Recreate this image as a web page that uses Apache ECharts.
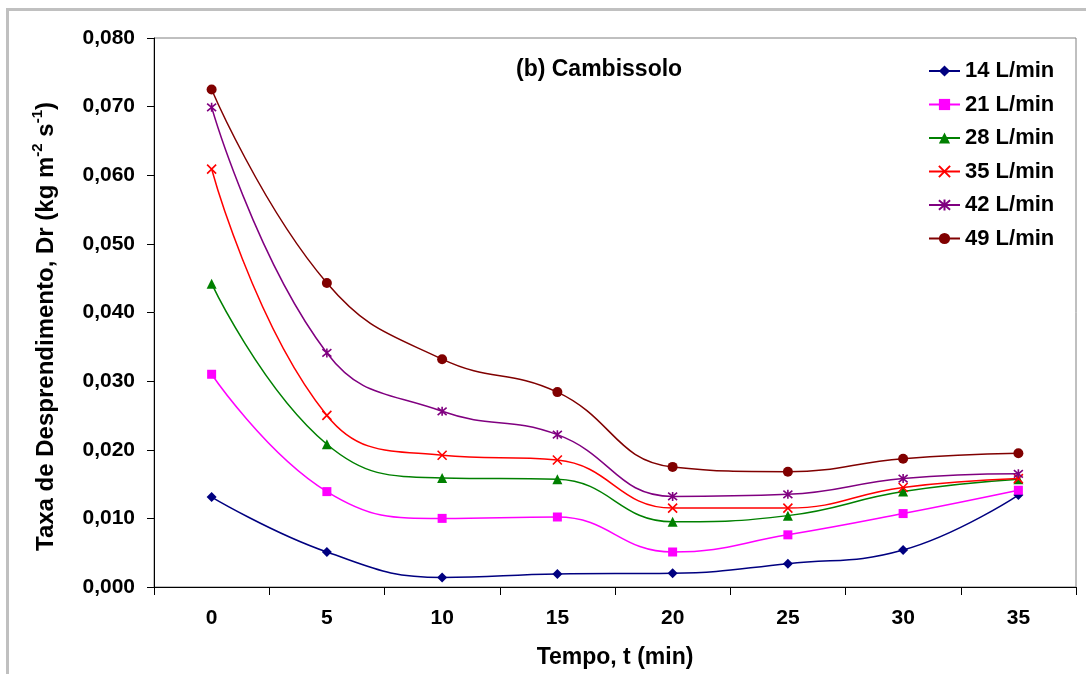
<!DOCTYPE html>
<html>
<head>
<meta charset="utf-8">
<script src="https://cdn.jsdelivr.net/npm/echarts@6/dist/echarts.min.js"></script>
<style>
html,body{margin:0;padding:0;background:#fff;}
#chart{width:1086px;height:674px;}
</style>
</head>
<body>
<div id="chart"></div>
<script>
const categories = ['0','5','10','15','20','25','30','35'];
const seriesNames = ['14 L/min','21 L/min','28 L/min','35 L/min','42 L/min','49 L/min'];
const s14 = [0.0131, 0.0051, 0.0014, 0.0019, 0.0020, 0.0034, 0.0054, 0.0134];
const s21 = [0.0310, 0.0139, 0.0100, 0.0102, 0.0051, 0.0076, 0.0107, 0.0141];
const s28 = [0.0442, 0.0208, 0.0159, 0.0157, 0.0095, 0.0104, 0.0139, 0.0157];
const s35 = [0.0609, 0.0250, 0.0192, 0.0185, 0.0115, 0.0115, 0.0145, 0.0158];
const s42 = [0.0699, 0.0341, 0.0256, 0.0222, 0.0132, 0.0135, 0.0158, 0.0165];
const s49 = [0.0725, 0.0443, 0.0332, 0.0284, 0.0175, 0.0168, 0.0187, 0.0195];
const yTicks = [0,0.01,0.02,0.03,0.04,0.05,0.06,0.07,0.08];

const FONT = 'Liberation Sans, Arial, sans-serif';
const styles = [
  {color:'#000080', symbol:'diamond', size:10},
  {color:'#FF00FF', symbol:'rect', size:9},
  {color:'#008000', symbol:'triangle', size:10},
  {color:'#FF0000', symbol:'path://M0,0L10,10M10,0L0,10', size:9, stroke:true},
  {color:'#800080', symbol:'path://M0,0L10,10M10,0L0,10M5,-1L5,11', size:9, stroke:true},
  {color:'#800000', symbol:'circle', size:10}
];
const data = [s14,s21,s28,s35,s42,s49];

const series = data.map((d,i)=>{
  const st = styles[i];
  return {
    name: seriesNames[i],
    type:'line',
    data:d,
    smooth:0.45,
    symbol:st.symbol,
    symbolSize:st.size,
    showAllSymbol:true,
    lineStyle:{color:st.color,width:1.5},
    itemStyle: st.stroke ? {color:st.color, borderColor:st.color, borderWidth:1.6} : {color:st.color, borderWidth:0},
    emphasis:{disabled:true},
    z: 2+i
  };
});

const chart = echarts.init(document.getElementById('chart'), null, {renderer:'canvas'});
chart.setOption({
  animation:false,
  backgroundColor:'#fff',
  title:{
    text:'(b) Cambissolo',
    left:511, top:53,
    textStyle:{fontFamily:FONT,fontSize:23,fontWeight:'bold',color:'#000',lineHeight:24}
  },
  legend:{
    orient:'vertical',
    left:923, top:55,
    itemWidth:31, itemHeight:14, itemGap:11.5,
    data:seriesNames,
    textStyle:{fontFamily:FONT,fontSize:22,fontWeight:'bold',color:'#000',lineHeight:22}
  },
  grid:{
    left:154, right:10, top:38, bottom:85,
    show:true, borderColor:'#808080', borderWidth:1, backgroundColor:'transparent'
  },
  xAxis:{
    type:'category',
    data:categories,
    boundaryGap:true,
    name:'Tempo, t (min)',
    nameLocation:'middle',
    nameGap:59,
    nameTextStyle:{fontFamily:FONT,fontSize:23,fontWeight:'bold',color:'#000'},
    axisLine:{lineStyle:{color:'#000',width:1}},
    axisTick:{show:true,length:8,lineStyle:{color:'#000'}},
    axisLabel:{fontFamily:FONT,fontSize:21,fontWeight:'bold',color:'#000',margin:21},
    splitLine:{show:false}
  },
  yAxis:{
    type:'value',
    min:0, max:0.08, interval:0.01,
    name:'{n|Taxa de Desprendimento, Dr (kg m}{s|-2}{n| s}{s|-1}{n|)}',
    nameLocation:'middle',
    nameGap:96,
    nameRotate:90,
    nameTextStyle:{
      padding:[0,28,0,0],
      rich:{
        n:{fontFamily:FONT,fontSize:24,fontWeight:'bold',color:'#000',lineHeight:28,verticalAlign:'bottom'},
        s:{fontFamily:FONT,fontSize:15,fontWeight:'bold',color:'#000',lineHeight:28,verticalAlign:'top'}
      }
    },
    axisLine:{show:true,lineStyle:{color:'#000',width:1}},
    axisTick:{show:true,length:7,lineStyle:{color:'#000'}},
    axisLabel:{
      fontFamily:FONT,fontSize:21,fontWeight:'bold',color:'#000',margin:19,
      formatter:v=>{
        const t = yTicks.find(x=>Math.abs(x-v)<1e-9);
        return (t===undefined?v:t).toFixed(3).replace('.',',');
      }
    },
    splitLine:{show:false}
  },
  graphic:[
    {type:'rect',shape:{x:6,y:8,width:3,height:700},style:{fill:'#c0c0c0'},silent:true},
    {type:'rect',shape:{x:6,y:8,width:1100,height:3},style:{fill:'#c0c0c0'},silent:true}
  ],
  series:series
});
</script>
</body>
</html>
